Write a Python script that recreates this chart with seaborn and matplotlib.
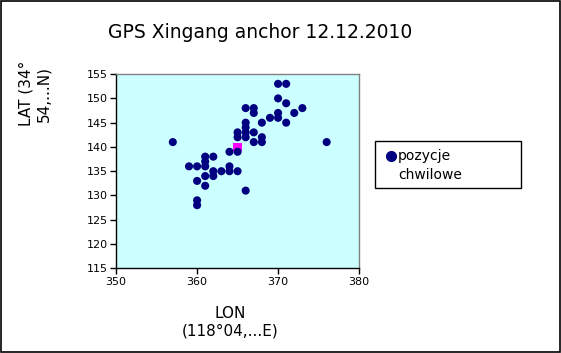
import matplotlib
matplotlib.use("Agg")
import matplotlib.pyplot as plt
import seaborn as sns
import pandas as pd
from matplotlib.patches import Rectangle
from matplotlib.lines import Line2D

# =====================================================
# Data
# =====================================================

lon = [370, 371, 370, 371, 366, 367, 373, 367, 370, 372,
       369, 370, 366, 368, 371, 366, 365, 366, 367, 365,
       366, 368, 357, 367, 368, 376, 364, 365,
       361, 362, 361, 359, 360, 361, 364, 362, 363, 364,
       365, 361, 362, 360, 361, 366, 360, 360]
lat = [153, 153, 150, 149, 148, 148, 148, 147, 147, 147,
       146, 146, 145, 145, 145, 144, 143, 143, 143, 142,
       142, 142, 141, 141, 141, 141, 139, 139,
       138, 138, 137, 136, 136, 136, 136, 135, 135, 135,
       135, 134, 134, 133, 132, 131, 129, 128]

anchor_lon = [365]
anchor_lat = [140]

x_ticks = [350, 360, 370, 380]
y_ticks = [115, 120, 125, 130, 135, 140, 145, 150, 155]

title = "GPS Xingang anchor 12.12.2010"
x_label = "LON\n(118°04,...E)"
y_label = "LAT (34°\n54,...N)"
legend_label = "pozycje\nchwilowe"

navy = "#000080"
pink = "#ff00ff"

# =====================================================
# Plot
# =====================================================

sns.set_style("ticks")
plt.rcParams["font.family"] = ["DejaVu Sans"]
plt.rcParams["text.color"] = "black"
plt.rcParams["axes.labelcolor"] = "black"
plt.rcParams["xtick.color"] = "black"
plt.rcParams["ytick.color"] = "black"

df = pd.DataFrame({"lon": lon, "lat": lat})
anchor_df = pd.DataFrame({"lon": anchor_lon, "lat": anchor_lat})

fig = plt.figure(figsize=(5.61, 3.53), dpi=100)
ax = fig.add_axes([0.207, 0.240, 0.433, 0.550])
ax.set_facecolor("#ccffff")

sns.scatterplot(data=anchor_df, x="lon", y="lat", marker="s", s=40,
                color=pink, edgecolor="none", ax=ax, zorder=2)
sns.scatterplot(data=df, x="lon", y="lat", marker="o", s=34,
                color=navy, edgecolor="none", ax=ax, zorder=3)

ax.set_xlim(x_ticks[0], x_ticks[-1])
ax.set_ylim(y_ticks[0], y_ticks[-1])
ax.set_xticks(x_ticks)
ax.set_yticks(y_ticks)
ax.set_xlabel("")
ax.set_ylabel("")
ax.tick_params(length=4, width=1, labelsize=8, colors="black", pad=2)

for side in ["top", "right"]:
    ax.spines[side].set_color("#808080")
    ax.spines[side].set_linewidth(1)
for side in ["left", "bottom"]:
    ax.spines[side].set_color("black")
    ax.spines[side].set_linewidth(1)

fig.text(0.464, 0.907, title, ha="center", va="center", fontsize=13.5)
fig.text(0.062, 0.735, y_label, rotation=90, ha="center", va="center",
         multialignment="center", fontsize=11)
fig.text(0.41, 0.088, x_label, ha="center", va="center",
         multialignment="center", fontsize=11)

# legend box
fig.add_artist(Rectangle((0.668, 0.4666), 0.26, 0.135, transform=fig.transFigure,
                         facecolor="white", edgecolor="black", linewidth=1))
fig.add_artist(Line2D([0.6965], [0.558], transform=fig.transFigure,
                      marker="o", markersize=7, color=navy, linestyle="none"))
fig.text(0.7095, 0.531, legend_label, ha="left", va="center",
         fontsize=10, linespacing=1.4)

# outer frame
fig.add_artist(Rectangle((0.001, 0.002), 0.997, 0.995, transform=fig.transFigure,
                         fill=False, edgecolor="black", linewidth=1.2))

plt.savefig("out.png", dpi=100, facecolor="white")
plt.close()
